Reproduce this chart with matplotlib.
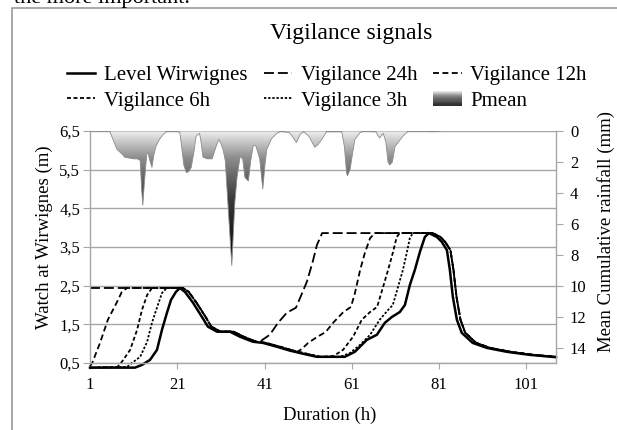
import numpy as np
import matplotlib
matplotlib.use("Agg")
import matplotlib.pyplot as plt
from matplotlib.colors import LinearSegmentedColormap
from matplotlib.patches import Rectangle, Patch
from matplotlib.legend_handler import HandlerBase

plt.rcParams['font.family'] = ['Liberation Serif', 'DejaVu Serif']

# observed level (m)
level_h = [1, 11.3, 12.9, 14.75, 16.35, 17.5, 18.64, 19.56, 20.7, 21.6, 22.76, 24.6, 26.66,
           28.03, 30.1, 33.07, 35.36, 38.34, 40.63, 43.84, 46.82, 49.8, 53.0, 57.6, 59.4,
           61.7, 64.46, 66.75, 68.58, 70.19, 72.02, 73.17, 74.31, 75.46, 76.6, 77.75, 78.66,
           80.5, 81.64, 82.8, 83.47, 84.16, 85.08, 86.2, 88.7, 91.95, 96.5, 101.8, 107.8]
level_v = [0.38, 0.38, 0.45, 0.58, 0.84, 1.36, 1.80, 2.13, 2.34, 2.44, 2.34, 2.06, 1.69,
           1.44, 1.31, 1.31, 1.18, 1.05, 1.02, 0.92, 0.82, 0.74, 0.66, 0.66, 0.66,
           0.79, 1.10, 1.23, 1.54, 1.69, 1.82, 2.0, 2.52, 2.91, 3.37, 3.76, 3.86,
           3.76, 3.63, 3.42, 2.91, 2.21, 1.62, 1.28, 1.02, 0.89, 0.79, 0.71, 0.65]

# recessions shared by the vigilance signals
fall1_h = np.array([22.3, 23.6, 25.4, 27.5, 28.8, 30.9, 33.9, 36.2, 39.1, 41.4, 44.6, 47.6, 50.6, 53.8, 58.4])
fall1_v = np.array([2.44, 2.34, 2.06, 1.69, 1.44, 1.31, 1.31, 1.18, 1.05, 1.02, 0.92, 0.82, 0.74, 0.66, 0.66])
fall2_h = [79.5, 81.3, 82.4, 83.6, 84.3, 85.0, 85.9, 87.0, 89.5, 92.7, 97.3, 102.6, 107.8]
fall2_v = [3.86, 3.76, 3.63, 3.42, 2.91, 2.21, 1.62, 1.28, 1.02, 0.89, 0.79, 0.71, 0.66]

# rising branches of each vigilance signal
v24_rise1_h, v24_rise1_v = [1], [2.44]
v24_rise2_h = [39.9, 42.2, 44.1, 46.1, 48.2, 49.4, 50.7, 52.0, 53.0, 54.2]
v24_rise2_v = [1.05, 1.23, 1.54, 1.80, 1.93, 2.25, 2.60, 3.10, 3.55, 3.86]

v12_rise1_h = [1, 1.5, 3.3, 5.1, 7.2, 8.3, 9.5]
v12_rise1_v = [0.42, 0.5, 1.02, 1.62, 2.08, 2.34, 2.44]
v12_rise2_h = [48.4, 49.5, 51.0, 53.0, 55.0, 56.8, 59.0, 60.8, 61.7, 62.9, 64.0, 65.2, 66.3]
v12_rise2_v = [0.78, 0.86, 1.02, 1.17, 1.30, 1.55, 1.81, 1.95, 2.30, 2.90, 3.35, 3.73, 3.86]

v6_rise1_h = [1, 7.3, 8.3, 10.2, 11.8, 12.9, 14.1, 15.2]
v6_rise1_v = [0.38, 0.4, 0.53, 0.84, 1.36, 1.87, 2.26, 2.44]
v6_rise2_h = [56.8, 59.0, 61.3, 63.3, 65.2, 66.8, 68.1, 69.3, 70.4, 71.3, 72.0]
v6_rise2_v = [0.68, 0.84, 1.18, 1.62, 1.82, 1.95, 2.44, 2.90, 3.35, 3.76, 3.86]

v3_rise1_h = [1, 9.5, 10.6, 12.5, 14.1, 15.2, 16.4, 17.5, 18.6]
v3_rise1_v = [0.38, 0.4, 0.5, 0.66, 1.05, 1.54, 1.95, 2.31, 2.44]
v3_rise2_h = [58.6, 60.6, 62.9, 65.2, 67.4, 69.3, 70.4, 71.6, 72.7, 73.6, 74.3, 75.0]
v3_rise2_v = [0.67, 0.76, 0.97, 1.23, 1.62, 1.87, 2.0, 2.47, 2.90, 3.35, 3.73, 3.86]

# mean cumulative rainfall (mm)
rain_h = [1, 5.5, 6.2, 7.2, 8.2, 9.0, 11.0, 11.8, 12.5, 12.8, 13.1, 13.4, 14.0, 14.3, 14.7,
          15.2, 15.6, 16.1, 16.9, 17.7, 18.4, 20.9, 21.6, 22.0, 22.5, 23.1, 23.7, 24.2, 24.8,
          25.3, 26.1, 26.4, 26.9, 27.9, 29.0, 29.9, 30.5, 31.0, 31.5, 32.0, 32.5, 33.1, 33.5,
          33.8, 34.2, 34.7, 35.4, 36.0, 36.5, 37.3, 37.8, 38.4, 39.0, 39.9, 40.6, 41.1, 41.5,
          42.6, 43.8, 44.7, 46.7, 47.5, 48.3, 49.2, 50.0, 51.2, 52.5, 53.2, 54.1, 55.2, 58.7,
          59.3, 59.8, 60.0, 60.6, 61.2, 61.7, 62.9, 63.5, 66.5, 67.1, 67.4, 68.2, 68.8, 69.3,
          69.7, 70.3, 70.9, 71.6, 72.8, 73.9, 76.1, 77.6, 79.0, 81.2]
rain_mm = [0, 0, 0.5, 1.2, 1.45, 1.7, 1.8, 1.8, 1.9, 3.6, 4.8, 3.6, 1.5, 1.4, 1.9,
           2.35, 1.6, 1.0, 0.55, 0.25, 0.05, 0.02, 0.1, 1.0, 2.2, 2.7, 2.6, 2.35, 1.4,
           0.35, 0.15, 0.6, 1.7, 1.8, 1.8, 1.0, 0.55, 0.8, 1.2, 1.9, 4.2, 6.9, 8.7,
           6.9, 4.6, 3.0, 1.65, 1.8, 3.0, 3.24, 2.0, 0.95, 0.95, 1.8, 3.75, 2.2, 1.2,
           0.5, 0.15, 0.03, 0.1, 0.4, 0.75, 0.2, 0.05, 0.35, 1.05, 0.9, 0.55, 0.05, 0.05,
           1.0, 2.7, 2.9, 2.5, 1.4, 0.55, 0.1, 0.03, 0.05, 0.35, 0.45, 0.15, 0.7, 2.0,
           2.2, 2.0, 1.0, 0.75, 0.3, 0.03, 0.03, 0.0, 0.05, 0.03]

x_ticks = [1, 21, 41, 61, 81, 101]
y_ticks = [0.5, 1.5, 2.5, 3.5, 4.5, 5.5, 6.5]
y_ticklabels = ['0,5', '1,5', '2,5', '3,5', '4,5', '5,5', '6,5']
rain_ticks = [0, 2, 4, 6, 8, 10, 12, 14]

GRAY = '#a6a6a6'
rain_cmap = LinearSegmentedColormap.from_list(
    'rain', [(0, '#eeeeee'), (0.2, '#8c8c8c'), (0.5, '#3a3a3a'), (1, '#000000')])


def vigilance(rise1_h, rise1_v, rise2_h, rise2_v):
    keep = fall1_h < rise2_h[0]
    h = list(rise1_h) + list(fall1_h[keep]) + list(rise2_h) + list(fall2_h)
    v = list(rise1_v) + list(fall1_v[keep]) + list(rise2_v) + list(fall2_v)
    return h, v


class GradientHandler(HandlerBase):
    def create_artists(self, legend, orig_handle, xdescent, ydescent, width, height, fontsize, trans):
        n = 14
        arts = []
        for i in range(n):
            c = rain_cmap(0.6 - 0.58 * i / (n - 1))
            arts.append(Rectangle((-xdescent, -ydescent + height * i / n), width, height / n * 1.05,
                                  facecolor=c, edgecolor='none', transform=trans))
        return arts


fig = plt.figure(figsize=(6.17, 4.30), dpi=100)
ax = fig.add_axes([90 / 617, 1 - 363 / 430, 466 / 617, 232 / 430])
ax2 = ax.twinx()

# rainfall with vertical gradient
poly = ax2.fill_between(rain_h, 0, rain_mm, facecolor='none', edgecolor='#8c8c8c', lw=0.6, zorder=2)
grad = np.linspace(0, 1, 256).reshape(-1, 1)
img = ax2.imshow(grad, cmap=rain_cmap, aspect='auto', origin='upper',
                 extent=[rain_h[0], rain_h[-1], max(rain_mm), 0], zorder=1)
img.set_clip_path(poly.get_paths()[0], transform=ax2.transData)

lw_d = 1.3
h, v = vigilance(v24_rise1_h, v24_rise1_v, v24_rise2_h, v24_rise2_v)
l24, = ax.plot(h, v, color='black', lw=lw_d, ls=(0, (5.5, 2.2)), clip_on=False)
h, v = vigilance(v12_rise1_h, v12_rise1_v, v12_rise2_h, v12_rise2_v)
l12, = ax.plot(h, v, color='black', lw=lw_d, ls=(0, (3.3, 1.9)), clip_on=False)
h, v = vigilance(v6_rise1_h, v6_rise1_v, v6_rise2_h, v6_rise2_v)
l6, = ax.plot(h, v, color='black', lw=lw_d, ls=(0, (2.2, 1.4)), clip_on=False)
h, v = vigilance(v3_rise1_h, v3_rise1_v, v3_rise2_h, v3_rise2_v)
l3, = ax.plot(h, v, color='black', lw=lw_d, ls=(0, (1.3, 1.0)), clip_on=False)
lvl, = ax.plot(level_h, level_v, color='black', lw=1.8, clip_on=False)

ax.set_xlim(1, 107.8)
ax.set_ylim(0.5, 6.5)
ax2.set_ylim(15, 0)
ax.set_xticks(x_ticks)
ax.set_yticks(y_ticks)
ax.set_yticklabels(y_ticklabels)
ax2.set_yticks(rain_ticks)
ax.grid(axis='y', color=GRAY, lw=1.0)
ax.set_axisbelow(True)

for a in (ax, ax2):
    for s in a.spines.values():
        s.set_color(GRAY)
        s.set_linewidth(1.0)
    a.spines['top'].set_visible(False)
ax.spines['right'].set_visible(False)
ax2.spines['left'].set_visible(False)
ax2.spines['bottom'].set_visible(False)
ax.tick_params(axis='x', length=4, color=GRAY, labelsize=12, pad=6)
ax.tick_params(axis='y', length=5, color=GRAY, labelsize=12, pad=2)
ax2.tick_params(axis='y', length=5, color=GRAY, labelsize=12, pad=5)

fig.text(14 / 617, 1 - 3 / 430, 'the more important.', fontsize=16, va='baseline')
fig.add_artist(Rectangle((12 / 617, -0.1), 1.2, 1.1 - 8 / 430, transform=fig.transFigure,
                         fill=False, edgecolor='#9a9a9a', lw=1.2))
fig.text(351 / 617, 1 - 33 / 430, 'Vigilance signals', ha='center', va='center', fontsize=17)
fig.text(44 / 617, 1 - 237 / 430, 'Watch at Wirwignes (m)', rotation=90,
         ha='center', va='center', fontsize=13.5)
fig.text(606 / 617, 1 - 232 / 430, 'Mean Cumulative rainfall (mm)', rotation=90,
         ha='center', va='center', fontsize=13.5)
fig.text(330 / 617, 1 - 415 / 430, 'Duration (h)', ha='center', va='center', fontsize=13.5)

pm = Patch(label='Pmean')
handles = [lvl, l6, l24, l3, l12, pm]
labels = ['Level Wirwignes', 'Vigilance 6h', 'Vigilance 24h', 'Vigilance 3h', 'Vigilance 12h', 'Pmean']
fig.legend(handles, labels, ncol=3, loc='center', bbox_to_anchor=(327 / 617, 1 - 88 / 430),
           frameon=False, fontsize=15, handlelength=1.35, handletextpad=0.43,
           columnspacing=0.77, labelspacing=0.3, borderpad=0, borderaxespad=0,
           handler_map={Patch: GradientHandler()})

fig.savefig('out.png', dpi=100)
